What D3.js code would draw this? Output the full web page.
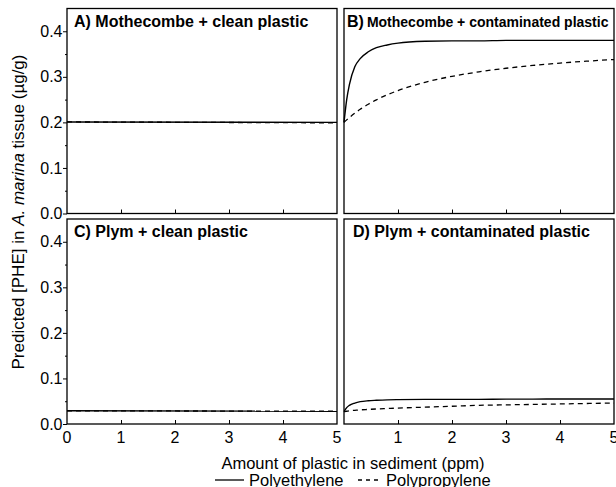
<!DOCTYPE html>
<html>
<head>
<meta charset="utf-8">
<script src="https://cdn.jsdelivr.net/npm/d3@7"></script>
<style>
  html, body { margin: 0; padding: 0; background: #fff; }
  svg { display: block; font-family: Arial, "Liberation Sans", Helvetica, sans-serif; }
</style>
</head>
<body>
<svg id="chart" width="616" height="487"></svg>
<script>
// ---- Data ----
const panelTitles = ["A)", "B)", "C)", "D)"];
const panelNames = ["Mothecombe + clean plastic", "Mothecombe + contaminated plastic",
                    "Plym + clean plastic", "Plym + contaminated plastic"];
const seriesNames = ["Polyethylene", "Polypropylene"];
const xTicks = [0, 1, 2, 3, 4, 5];
const yTicks = [0.0, 0.1, 0.2, 0.3, 0.4];
const yMinorTicks = [0.05, 0.15, 0.25, 0.35];

// flat panels (A, C)
const xFlat = [0, 5];
const peA = [0.201, 0.200];
const ppA = [0.201, 0.199];
const peC = [0.029, 0.028];
const ppC = [0.029, 0.028];

// curved panels (B, D)
const xCurve = [0, 0.05, 0.1, 0.2, 0.3, 0.45, 0.6, 0.8, 1.0, 1.5, 2.0, 2.5, 3.0, 3.5, 4.0, 4.5, 5.0];
const peB = [0.200, 0.250, 0.283, 0.322, 0.340, 0.355, 0.364, 0.370, 0.374, 0.378, 0.379, 0.379, 0.380, 0.380, 0.380, 0.380, 0.380];
const ppB = [0.200, 0.2055, 0.2107, 0.2202, 0.2287, 0.2399, 0.2495, 0.2606, 0.2699, 0.2880, 0.3011, 0.3110, 0.3188, 0.3250, 0.3302, 0.3344, 0.3380];
const peD = [0.027, 0.036, 0.041, 0.046, 0.049, 0.051, 0.052, 0.053, 0.0535, 0.054, 0.054, 0.054, 0.0545, 0.0545, 0.055, 0.055, 0.055];
const ppD = [0.027, 0.028, 0.029, 0.030, 0.031, 0.032, 0.033, 0.034, 0.035, 0.037, 0.039, 0.041, 0.042, 0.043, 0.044, 0.045, 0.046];

// ---- Layout ----
const svg = d3.select("#chart");
const cols = [[67, 337], [344, 614]];
const rows = [[213.5, 8.5], [424, 219]];
const yDomain = [0, 0.45];

const panels = [
  { col: 0, row: 0, xs: xFlat, pe: peA, pp: ppA },
  { col: 1, row: 0, xs: xCurve, pe: peB, pp: ppB },
  { col: 0, row: 1, xs: xFlat, pe: peC, pp: ppC },
  { col: 1, row: 1, xs: xCurve, pe: peD, pp: ppD }
];

panels.forEach((p, i) => {
  const x = d3.scaleLinear().domain([0, 5]).range(cols[p.col]);
  const y = d3.scaleLinear().domain(yDomain).range(rows[p.row]);
  const g = svg.append("g");
  const [x0, x1] = x.range();
  const [yb, yt] = y.range();

  // bottom inward ticks
  g.append("g")
    .attr("transform", `translate(0,${yb})`)
    .call(d3.axisTop(x).tickValues(xTicks.slice(1, -1)).tickSize(4).tickFormat(""))
    .call(s => s.select(".domain").remove())
    .call(s => s.selectAll("line").attr("stroke", "#000").attr("stroke-width", 1));

  // x tick labels on bottom row
  if (p.row === 1) {
    const labs = p.col === 0 ? xTicks : xTicks.slice(1);
    g.selectAll(".xl").data(labs).enter().append("text")
      .attr("x", d => x(d)).attr("y", yb + 19)
      .attr("text-anchor", "middle")
      .attr("font-size", 16).attr("fill", "#000")
      .text(d => d);
  }

  // y axis on left column
  if (p.col === 0) {
    g.append("g")
      .attr("transform", `translate(${x0},0)`)
      .call(d3.axisLeft(y).tickValues(yTicks).tickSize(4).tickFormat(d3.format(".1f")))
      .call(s => s.select(".domain").remove())
      .call(s => s.selectAll("line").attr("stroke", "#000"))
      .call(s => s.selectAll("text").attr("font-size", 16).attr("fill", "#000")
        .attr("font-family", "Arial, 'Liberation Sans', sans-serif").attr("x", -4.5));
    g.append("g")
      .attr("transform", `translate(${x0},0)`)
      .call(d3.axisLeft(y).tickValues(yMinorTicks).tickSize(2).tickFormat(""))
      .call(s => s.select(".domain").remove())
      .call(s => s.selectAll("line").attr("stroke", "#000"));
  }

  // lines
  const line = d3.line()
    .x((d, j) => x(p.xs[j]))
    .y(d => y(d))
    .curve(d3.curveMonotoneX);
  g.append("path").datum(p.pp).attr("d", line)
    .attr("fill", "none").attr("stroke", "#000").attr("stroke-width", 1.3)
    .attr("stroke-dasharray", "5,4");
  g.append("path").datum(p.pe).attr("d", line)
    .attr("fill", "none").attr("stroke", "#000").attr("stroke-width", 1.4);

  // frame
  g.append("rect")
    .attr("x", x0).attr("y", yt).attr("width", x1 - x0).attr("height", yb - yt)
    .attr("fill", "none").attr("stroke", "#000").attr("stroke-width", 1.3);

  // title
  const t = g.append("text")
    .attr("x", x0 + (i === 1 ? 3 : (p.col === 1 ? 9 : 7)))
    .attr("y", yt + 18)
    .attr("font-weight", "bold").attr("fill", "#000");
  if (i === 1) {
    t.append("tspan").attr("font-size", 16).text(panelTitles[i]);
    t.append("tspan").attr("font-size", 14).attr("dx", 3).text(panelNames[i]);
  } else {
    t.attr("font-size", 16).text(panelTitles[i] + " " + panelNames[i]);
  }
});

// y-axis title
const yt = svg.append("text")
  .attr("transform", "translate(24,212) rotate(-90)")
  .attr("text-anchor", "middle").attr("font-size", 17).attr("fill", "#000");
yt.append("tspan").text("Predicted [PHE] in ");
yt.append("tspan").attr("font-style", "italic").text("A. marina");
yt.append("tspan").text(" tissue (\u00b5g/g)");

// x-axis title
svg.append("text")
  .attr("x", 353).attr("y", 469)
  .attr("text-anchor", "middle").attr("font-size", 16.5).attr("fill", "#000")
  .text("Amount of plastic in sediment (ppm)");

// legend
const lg = svg.append("g");
lg.append("line").attr("x1", 215).attr("x2", 244).attr("y1", 480).attr("y2", 480)
  .attr("stroke", "#000").attr("stroke-width", 1.3);
lg.append("text").attr("x", 249).attr("y", 486).attr("font-size", 16.5).attr("fill", "#000")
  .text(seriesNames[0]);
lg.append("line").attr("x1", 358).attr("x2", 380).attr("y1", 480).attr("y2", 480)
  .attr("stroke", "#000").attr("stroke-width", 1.3).attr("stroke-dasharray", "4,4");
lg.append("text").attr("x", 386).attr("y", 486).attr("font-size", 16.5).attr("fill", "#000")
  .text(seriesNames[1]);
</script>
</body>
</html>
